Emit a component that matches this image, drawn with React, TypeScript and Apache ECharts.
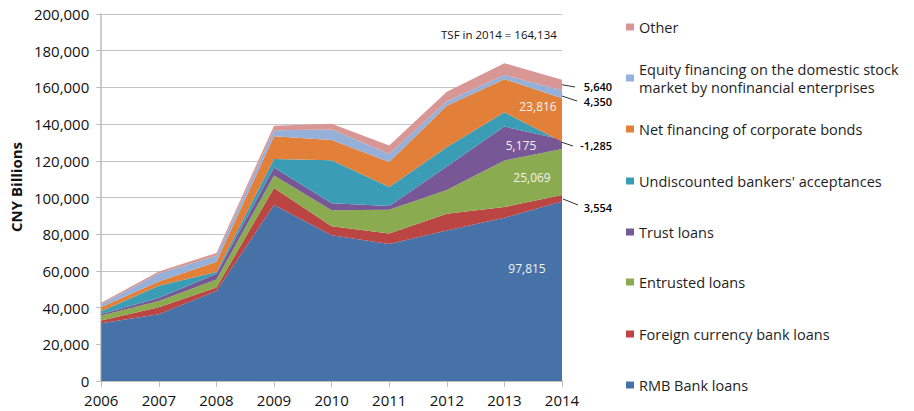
import React, { useEffect, useRef } from "react";
import * as echarts from "echarts";

const years = ["2006", "2007", "2008", "2009", "2010", "2011", "2012", "2013", "2014"];
const rmbLoans = [31523, 36323, 49041, 95942, 79451, 74715, 82038, 88917, 97815];
const foreignLoans = [1459, 3864, 1947, 9265, 4855, 5712, 9163, 5848, 3554];
const entrustedLoans = [2695, 3371, 4262, 6780, 8748, 12962, 12838, 25466, 25069];
const trustLoans = [825, 1702, 3144, 4364, 3865, 2034, 12845, 18404, 5175];
const bankersAcceptances = [1500, 6701, 1064, 4606, 23346, 10271, 10499, 7756, -1285];
const corporateBonds = [2310, 2284, 5523, 12367, 11063, 13658, 22551, 18111, 23816];
const equityFinancing = [1536, 4333, 3324, 3350, 5786, 4377, 2508, 2219, 4350];
const otherFinancing = [848, 1085, 1497, 2430, 3077, 4557, 5189, 6448, 5640];
const yTicks = [0, 20000, 40000, 60000, 80000, 100000, 120000, 140000, 160000, 180000, 200000];
const tsfNote = "TSF in 2014 = 164,134";

const FONT = "'Open Sans', 'Liberation Sans', sans-serif";

type LabelSpec = { offset: [number, number]; align: "center" | "left" | "right"; color: string; size: number; weight: string };

const seriesDefs: { name: string; values: number[]; color: string; label: LabelSpec }[] = [
  { name: "RMB Bank loans", values: rmbLoans, color: "#4672a8", label: { offset: [-35, 67], align: "center", color: "#f2f2f2", size: 12, weight: "normal" } },
  { name: "Foreign currency bank loans", values: foreignLoans, color: "#bb4542", label: { offset: [50, 13], align: "right", color: "#000", size: 11, weight: "600" } },
  { name: "Entrusted loans", values: entrustedLoans, color: "#8aab4f", label: { offset: [-30, 29], align: "center", color: "#f2f2f2", size: 12, weight: "normal" } },
  { name: "Trust loans", values: trustLoans, color: "#775796", label: { offset: [-41, 6.5], align: "center", color: "#f2f2f2", size: 12, weight: "normal" } },
  { name: "Undiscounted bankers' acceptances", values: bankersAcceptances, color: "#3a9cb5", label: { offset: [50, 4], align: "right", color: "#000", size: 11, weight: "600" } },
  { name: "Net financing of corporate bonds", values: corporateBonds, color: "#e2803a", label: { offset: [-24, 8], align: "center", color: "#f2f2f2", size: 12, weight: "normal" } },
  { name: "Equity financing on the domestic stock market by nonfinancial enterprises", values: equityFinancing, color: "#95b1da", label: { offset: [50, 11], align: "right", color: "#000", size: 11, weight: "600" } },
  { name: "Other", values: otherFinancing, color: "#d89794", label: { offset: [50, 7], align: "right", color: "#000", size: 11, weight: "600" } },
];

const fmt = (v: number) => v.toLocaleString("en-US");

export default function App() {
  const ref = useRef<HTMLDivElement>(null);
  useEffect(() => {
    if (!ref.current) return;
    const chart = echarts.init(ref.current, undefined, { renderer: "svg" });
    const last = years.length - 1;

    const series = seriesDefs.map((s) => ({
      name: s.name,
      type: "line",
      stack: "tsf",
      stackStrategy: "all",
      clip: false,
      symbol: "circle",
      symbolSize: 0,
      showSymbol: true,
      lineStyle: { width: 0 },
      itemStyle: { color: s.color },
      areaStyle: { color: s.color, opacity: 1 },
      emphasis: { disabled: true },
      data: s.values.map((v, i) =>
        i === last
          ? {
              value: v,
              label: {
                show: true,
                position: "inside",
                offset: s.label.offset,
                align: s.label.align,
                verticalAlign: "middle",
                formatter: () => fmt(v),
                color: s.label.color,
                fontSize: s.label.size,
                fontWeight: s.label.weight,
                fontFamily: FONT,
              },
            }
          : v
      ),
    }));

    const legendNames = seriesDefs.map((s) => s.name).reverse();
    const legendCenters = [27, 78, 129, 181, 232, 282, 334, 385];
    const legends = legendNames.map((name, i) => {
      const multi = name.startsWith("Equity");
      return {
        data: [name],
        left: 626,
        top: multi ? legendCenters[i] - 27 : legendCenters[i] - 9,
        orient: "vertical",
        padding: 0,
        itemWidth: 8,
        itemHeight: 7,
        itemGap: 0,
        icon: "rect",
        selectedMode: false,
        formatter: multi ? () => "Equity financing on the domestic stock\nmarket by nonfinancial enterprises" : undefined,
        textStyle: {
          fontFamily: FONT,
          fontSize: 14.5,
          color: "#1e1e1e",
          lineHeight: 18,
          padding: multi ? [18, 0, 0, 0] : 0,
        },
      };
    });

    chart.setOption({
      animation: false,
      grid: { left: 100, right: 352, top: 14, bottom: 30, containLabel: false },
      legend: legends,
      xAxis: {
        type: "category",
        data: years,
        boundaryGap: false,
        axisLine: { lineStyle: { color: "#bdbdbd", width: 1.5 } },
        axisTick: { show: true, length: 6, lineStyle: { color: "#bdbdbd" }, alignWithLabel: true },
        axisLabel: { fontFamily: FONT, fontSize: 15, color: "#111", margin: 11 },
        splitLine: { show: false },
      },
      yAxis: {
        type: "value",
        min: yTicks[0],
        max: yTicks[yTicks.length - 1],
        interval: yTicks[1] - yTicks[0],
        name: "CNY Billions",
        nameLocation: "middle",
        nameRotate: 90,
        nameGap: 76,
        nameTextStyle: { fontFamily: FONT, fontSize: 15, fontWeight: "bold", color: "#111", padding: [0, 0, 0, 21] },
        axisLine: { show: true, lineStyle: { color: "#bdbdbd", width: 1.5 } },
        axisTick: { show: true, length: 5, lineStyle: { color: "#bdbdbd" } },
        axisLabel: { fontFamily: FONT, fontSize: 15, color: "#111", margin: 12, formatter: (v: number) => fmt(v) },
        splitLine: { lineStyle: { color: "#c4c4c4", width: 1.2 } },
      },
      series,
      graphic: [
        { type: "text", left: 441, top: 28, style: { text: tsfNote, fontFamily: FONT, fontSize: 11.5, fill: "#111" } },
        { type: "line", shape: { x1: 558, y1: 84, x2: 575, y2: 87 }, style: { stroke: "#333", lineWidth: 1 } },
        { type: "line", shape: { x1: 559, y1: 95, x2: 577, y2: 101 }, style: { stroke: "#333", lineWidth: 1 } },
        { type: "line", shape: { x1: 558, y1: 141, x2: 573, y2: 146 }, style: { stroke: "#333", lineWidth: 1 } },
        { type: "line", shape: { x1: 563, y1: 199, x2: 578, y2: 205 }, style: { stroke: "#333", lineWidth: 1 } },
      ],
    });
    return () => chart.dispose();
  }, []);
  return <div ref={ref} style={{ width: 914, height: 411, position: "absolute", left: 0, top: 0 }} />;
}
